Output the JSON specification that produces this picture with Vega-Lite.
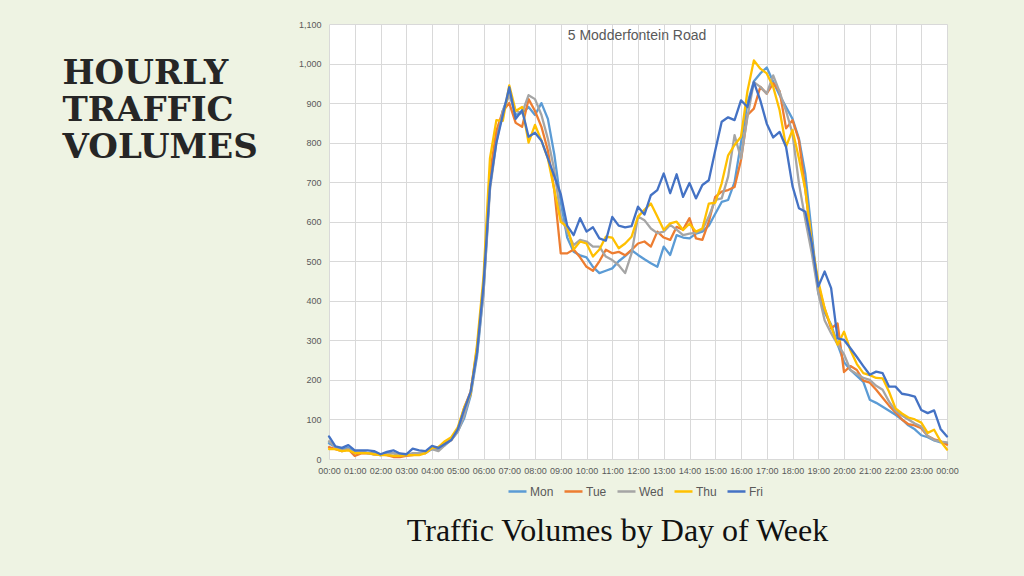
{
  "$schema": "https://vega.github.io/schema/vega-lite/v6.json",
  "width": 618,
  "height": 435,
  "autosize": {"type": "none"},
  "padding": {"left": 329, "top": 24, "right": 77, "bottom": 117},
  "background": "#eef3e3",
  "view": {"fill": "white", "stroke": null},
  "title": {"text": "5 Modderfontein Road", "anchor": "middle", "frame": "group", "orient": "top", "offset": 0, "dy": 34, "dx": -1, "baseline": "alphabetic", "font": "Liberation Sans", "fontSize": 14, "fontWeight": "normal", "color": "#595959"},
  "data": {"values": [
    {"h":0,"Mon":40,"Tue":30,"Wed":45,"Thu":25,"Fri":57},
    {"h":0.25,"Mon":30,"Tue":25,"Wed":30,"Thu":25,"Fri":32},
    {"h":0.5,"Mon":25,"Tue":20,"Wed":20,"Thu":20,"Fri":28},
    {"h":0.75,"Mon":28,"Tue":25,"Wed":25,"Thu":22,"Fri":35},
    {"h":1,"Mon":18,"Tue":8,"Wed":15,"Thu":15,"Fri":22},
    {"h":1.25,"Mon":18,"Tue":14,"Wed":20,"Thu":15,"Fri":22},
    {"h":1.5,"Mon":15,"Tue":15,"Wed":15,"Thu":15,"Fri":22},
    {"h":1.75,"Mon":15,"Tue":12,"Wed":12,"Thu":12,"Fri":20},
    {"h":2,"Mon":10,"Tue":12,"Wed":10,"Thu":10,"Fri":12},
    {"h":2.25,"Mon":15,"Tue":10,"Wed":12,"Thu":10,"Fri":18},
    {"h":2.5,"Mon":15,"Tue":5,"Wed":15,"Thu":8,"Fri":22},
    {"h":2.75,"Mon":10,"Tue":5,"Wed":10,"Thu":8,"Fri":14},
    {"h":3,"Mon":10,"Tue":8,"Wed":10,"Thu":10,"Fri":12},
    {"h":3.25,"Mon":12,"Tue":10,"Wed":15,"Thu":10,"Fri":26},
    {"h":3.5,"Mon":15,"Tue":15,"Wed":15,"Thu":10,"Fri":22},
    {"h":3.75,"Mon":18,"Tue":15,"Wed":15,"Thu":15,"Fri":20},
    {"h":4,"Mon":25,"Tue":28,"Wed":25,"Thu":28,"Fri":33},
    {"h":4.25,"Mon":25,"Tue":30,"Wed":20,"Thu":30,"Fri":28},
    {"h":4.5,"Mon":35,"Tue":40,"Wed":35,"Thu":45,"Fri":38},
    {"h":4.75,"Mon":50,"Tue":48,"Wed":48,"Thu":55,"Fri":48},
    {"h":5,"Mon":70,"Tue":72,"Wed":68,"Thu":80,"Fri":75},
    {"h":5.25,"Mon":103,"Tue":130,"Wed":110,"Thu":130,"Fri":125},
    {"h":5.5,"Mon":160,"Tue":170,"Wed":165,"Thu":165,"Fri":170},
    {"h":5.75,"Mon":260,"Tue":280,"Wed":270,"Thu":290,"Fri":270},
    {"h":6,"Mon":420,"Tue":440,"Wed":420,"Thu":460,"Fri":440},
    {"h":6.25,"Mon":690,"Tue":720,"Wed":680,"Thu":760,"Fri":690},
    {"h":6.5,"Mon":810,"Tue":830,"Wed":800,"Thu":857,"Fri":800},
    {"h":6.75,"Mon":880,"Tue":880,"Wed":880,"Thu":855,"Fri":870},
    {"h":7,"Mon":925,"Tue":900,"Wed":920,"Thu":945,"Fri":940},
    {"h":7.25,"Mon":870,"Tue":850,"Wed":880,"Thu":880,"Fri":860},
    {"h":7.5,"Mon":875,"Tue":840,"Wed":875,"Thu":890,"Fri":882},
    {"h":7.75,"Mon":890,"Tue":910,"Wed":920,"Thu":800,"Fri":815},
    {"h":8,"Mon":870,"Tue":880,"Wed":910,"Thu":845,"Fri":825},
    {"h":8.25,"Mon":900,"Tue":840,"Wed":870,"Thu":805,"Fri":805},
    {"h":8.5,"Mon":860,"Tue":780,"Wed":810,"Thu":760,"Fri":760},
    {"h":8.75,"Mon":770,"Tue":680,"Wed":730,"Thu":680,"Fri":715},
    {"h":9,"Mon":650,"Tue":520,"Wed":613,"Thu":600,"Fri":670},
    {"h":9.25,"Mon":560,"Tue":520,"Wed":575,"Thu":587,"Fri":590},
    {"h":9.5,"Mon":524,"Tue":530,"Wed":541,"Thu":530,"Fri":566},
    {"h":9.75,"Mon":515,"Tue":510,"Wed":554,"Thu":550,"Fri":609},
    {"h":10,"Mon":510,"Tue":486,"Wed":550,"Thu":545,"Fri":575},
    {"h":10.25,"Mon":486,"Tue":476,"Wed":537,"Thu":512,"Fri":586},
    {"h":10.5,"Mon":470,"Tue":500,"Wed":537,"Thu":530,"Fri":558},
    {"h":10.75,"Mon":476,"Tue":529,"Wed":512,"Thu":562,"Fri":552},
    {"h":11,"Mon":482,"Tue":520,"Wed":503,"Thu":560,"Fri":612},
    {"h":11.25,"Mon":500,"Tue":524,"Wed":490,"Thu":533,"Fri":590},
    {"h":11.5,"Mon":513,"Tue":515,"Wed":470,"Thu":545,"Fri":586},
    {"h":11.75,"Mon":528,"Tue":529,"Wed":520,"Thu":562,"Fri":589},
    {"h":12,"Mon":516,"Tue":545,"Wed":613,"Thu":613,"Fri":638},
    {"h":12.25,"Mon":505,"Tue":550,"Wed":604,"Thu":630,"Fri":618},
    {"h":12.5,"Mon":495,"Tue":537,"Wed":583,"Thu":646,"Fri":667},
    {"h":12.75,"Mon":486,"Tue":575,"Wed":571,"Thu":613,"Fri":680},
    {"h":13,"Mon":537,"Tue":560,"Wed":575,"Thu":579,"Fri":722},
    {"h":13.25,"Mon":516,"Tue":554,"Wed":592,"Thu":596,"Fri":672},
    {"h":13.5,"Mon":566,"Tue":587,"Wed":580,"Thu":600,"Fri":720},
    {"h":13.75,"Mon":560,"Tue":580,"Wed":566,"Thu":579,"Fri":663},
    {"h":14,"Mon":558,"Tue":609,"Wed":570,"Thu":595,"Fri":698},
    {"h":14.25,"Mon":570,"Tue":558,"Wed":572,"Thu":575,"Fri":659},
    {"h":14.5,"Mon":575,"Tue":554,"Wed":580,"Thu":583,"Fri":693},
    {"h":14.75,"Mon":590,"Tue":600,"Wed":613,"Thu":646,"Fri":705},
    {"h":15,"Mon":620,"Tue":663,"Wed":655,"Thu":648,"Fri":780},
    {"h":15.25,"Mon":650,"Tue":676,"Wed":659,"Thu":697,"Fri":853},
    {"h":15.5,"Mon":655,"Tue":680,"Wed":714,"Thu":768,"Fri":864},
    {"h":15.75,"Mon":700,"Tue":688,"Wed":819,"Thu":794,"Fri":857},
    {"h":16,"Mon":800,"Tue":756,"Wed":760,"Thu":815,"Fri":907},
    {"h":16.25,"Mon":900,"Tue":870,"Wed":865,"Thu":930,"Fri":890},
    {"h":16.5,"Mon":955,"Tue":886,"Wed":953,"Thu":1008,"Fri":953},
    {"h":16.75,"Mon":975,"Tue":941,"Wed":941,"Thu":987,"Fri":907},
    {"h":17,"Mon":990,"Tue":924,"Wed":924,"Thu":975,"Fri":848},
    {"h":17.25,"Mon":954,"Tue":950,"Wed":970,"Thu":941,"Fri":813},
    {"h":17.5,"Mon":920,"Tue":930,"Wed":928,"Thu":882,"Fri":827},
    {"h":17.75,"Mon":890,"Tue":836,"Wed":880,"Thu":790,"Fri":789},
    {"h":18,"Mon":860,"Tue":857,"Wed":823,"Thu":832,"Fri":690},
    {"h":18.25,"Mon":810,"Tue":806,"Wed":697,"Thu":760,"Fri":634},
    {"h":18.5,"Mon":720,"Tue":680,"Wed":604,"Thu":680,"Fri":625},
    {"h":18.75,"Mon":570,"Tue":545,"Wed":520,"Thu":545,"Fri":545},
    {"h":19,"Mon":420,"Tue":440,"Wed":420,"Thu":450,"Fri":436},
    {"h":19.25,"Mon":370,"Tue":380,"Wed":350,"Thu":380,"Fri":474},
    {"h":19.5,"Mon":340,"Tue":330,"Wed":318,"Thu":335,"Fri":432},
    {"h":19.75,"Mon":290,"Tue":343,"Wed":290,"Thu":289,"Fri":305},
    {"h":20,"Mon":245,"Tue":220,"Wed":265,"Thu":322,"Fri":301},
    {"h":20.25,"Mon":225,"Tue":235,"Wed":225,"Thu":275,"Fri":280},
    {"h":20.5,"Mon":210,"Tue":225,"Wed":215,"Thu":240,"Fri":258},
    {"h":20.75,"Mon":195,"Tue":198,"Wed":205,"Thu":217,"Fri":235},
    {"h":21,"Mon":150,"Tue":193,"Wed":200,"Thu":212,"Fri":213},
    {"h":21.25,"Mon":142,"Tue":175,"Wed":185,"Thu":205,"Fri":221},
    {"h":21.5,"Mon":132,"Tue":155,"Wed":175,"Thu":204,"Fri":217},
    {"h":21.75,"Mon":122,"Tue":135,"Wed":145,"Thu":170,"Fri":183},
    {"h":22,"Mon":112,"Tue":118,"Wed":122,"Thu":128,"Fri":183},
    {"h":22.25,"Mon":100,"Tue":100,"Wed":110,"Thu":115,"Fri":165},
    {"h":22.5,"Mon":85,"Tue":88,"Wed":100,"Thu":105,"Fri":162},
    {"h":22.75,"Mon":75,"Tue":85,"Wed":90,"Thu":100,"Fri":158},
    {"h":23,"Mon":60,"Tue":78,"Wed":82,"Thu":92,"Fri":124},
    {"h":23.25,"Mon":55,"Tue":58,"Wed":58,"Thu":66,"Fri":116},
    {"h":23.5,"Mon":47,"Tue":50,"Wed":48,"Thu":74,"Fri":123},
    {"h":23.75,"Mon":42,"Tue":45,"Wed":44,"Thu":45,"Fri":76},
    {"h":24,"Mon":40,"Tue":36,"Wed":42,"Thu":24,"Fri":57}
  ]},
  "transform": [{"fold": ["Mon", "Tue", "Wed", "Thu", "Fri"], "as": ["day", "vol"]}],
  "mark": {"type": "line", "strokeWidth": 2.3, "strokeJoin": "round", "strokeCap": "round"},
  "encoding": {
    "x": {
      "field": "h", "type": "quantitative",
      "scale": {"domain": [0, 24], "nice": false, "zero": false},
      "axis": {
        "values": [0,1,2,3,4,5,6,7,8,9,10,11,12,13,14,15,16,17,18,19,20,21,22,23,24],
        "labelExpr": "(datum.value % 24 < 10 ? '0' : '') + (datum.value % 24) + ':00'",
        "labelFont": "Liberation Sans", "labelFontSize": 9, "labelColor": "#595959",
        "labelPadding": 7, "labelOverlap": false, "labelFlush": false,
        "domain": false, "ticks": false, "grid": true, "gridColor": "#d9d9d9", "gridWidth": 1,
        "title": "Traffic Volumes by Day of Week",
        "titleFont": "Liberation Serif", "titleFontSize": 32, "titleFontWeight": "normal", "titleColor": "#111111",
        "titleX": 288, "titleY": 81, "titleBaseline": "alphabetic", "titleAlign": "center"
      }
    },
    "y": {
      "field": "vol", "type": "quantitative",
      "scale": {"domain": [0, 1100], "nice": false},
      "axis": {
        "values": [0,100,200,300,400,500,600,700,800,900,1000,1100],
        "format": ",.0f",
        "labelFont": "Liberation Sans", "labelFontSize": 9, "labelColor": "#595959", "labelPadding": 8,
        "domain": false, "ticks": false, "grid": true, "gridColor": "#d9d9d9", "gridWidth": 1,
        "title": ["HOURLY", "TRAFFIC", "VOLUMES"],
        "titleFont": "DejaVu Serif", "titleFontSize": 34, "titleFontWeight": "bold", "titleColor": "#262626",
        "titleAngle": 0, "titleAlign": "left", "titleBaseline": "top",
        "titleX": -267, "titleY": 32, "titleLineHeight": 37
      }
    },
    "color": {
      "field": "day", "type": "nominal",
      "scale": {"domain": ["Mon", "Tue", "Wed", "Thu", "Fri"], "range": ["#5B9BD5", "#ED7D31", "#A5A5A5", "#FFC000", "#4472C4"]},
      "legend": {
        "orient": "none", "legendX": 178, "legendY": 457, "direction": "horizontal", "title": null,
        "gridAlign": "none",
        "symbolType": "stroke", "symbolStrokeWidth": 2.5, "symbolSize": 324,
        "labelFont": "Liberation Sans", "labelFontSize": 12, "labelColor": "#595959",
        "labelOffset": 2, "columnPadding": 5
      }
    }
  }
}
